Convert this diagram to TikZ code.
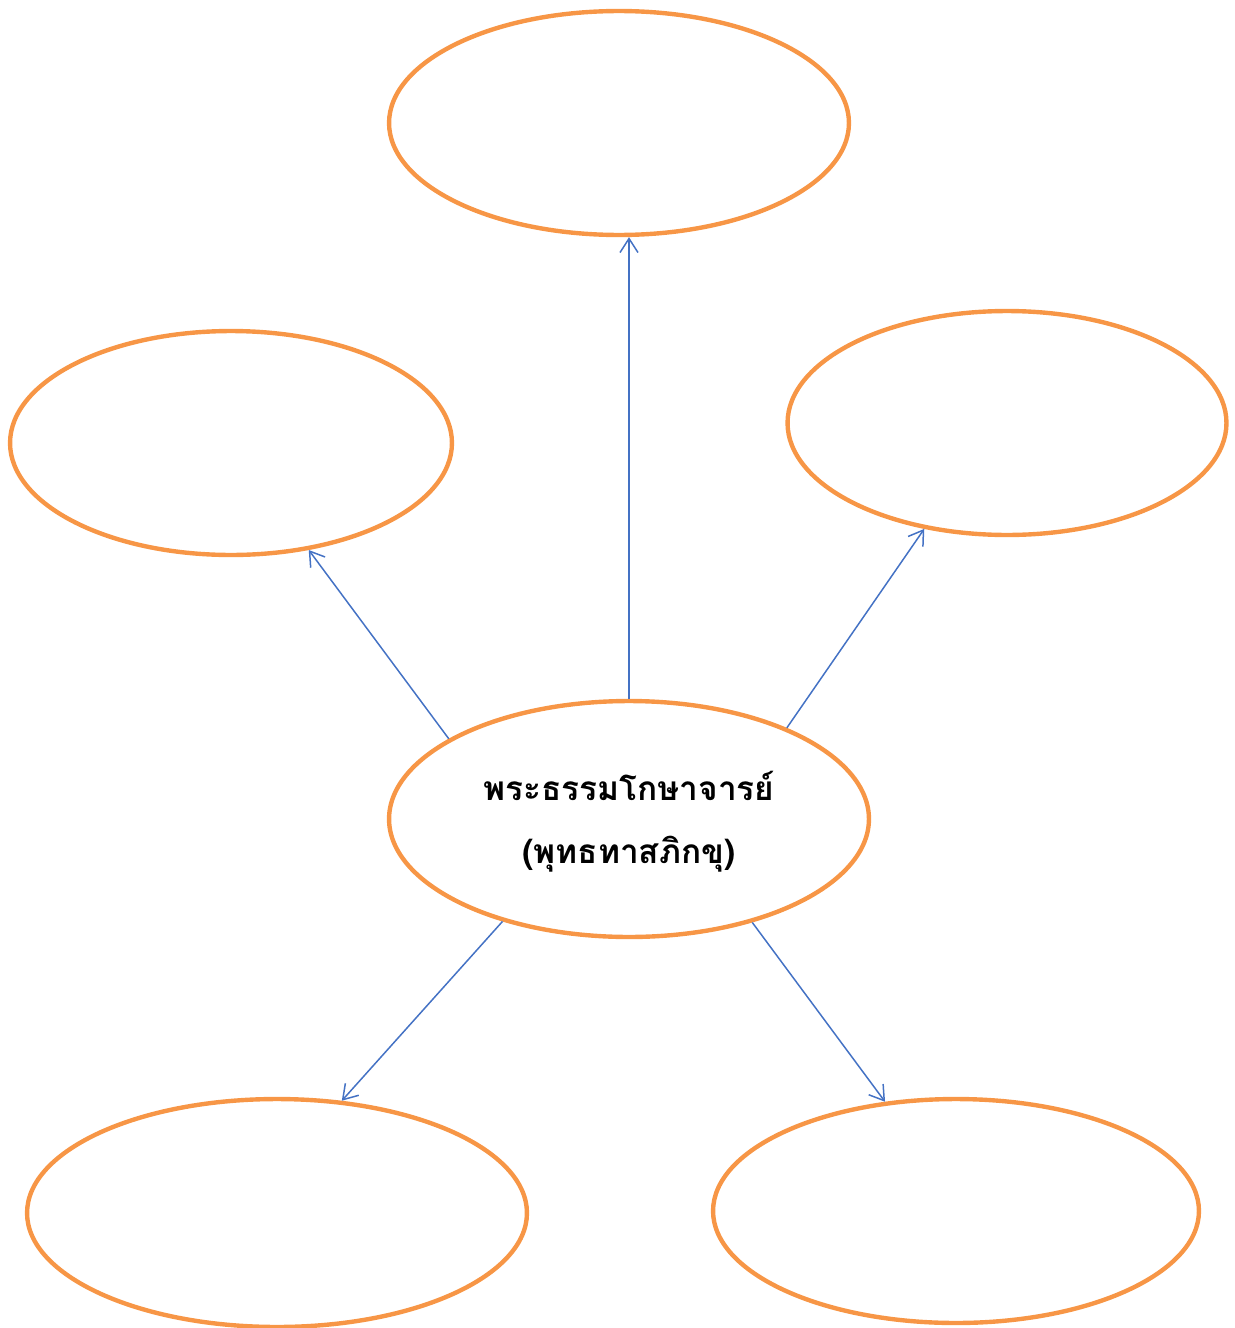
\documentclass[tikz,border=0pt]{standalone}
\usepackage{fontspec}
\newfontfamily\thaifont[Script=Thai]{Loma}
\usetikzlibrary{shapes.geometric,arrows.meta}
\definecolor{ringorange}{RGB}{247,150,70}
\definecolor{linkblue}{RGB}{68,114,196}

\begin{document}
\begin{tikzpicture}[x=0.02cm,y=-0.02cm,
  bubble/.style={ellipse,draw=ringorange,line width=2.5pt,inner sep=0pt},
  link/.style={draw=linkblue,line width=0.85pt,-{Straight Barb[length=2.8mm,width=3.6mm]}}]

\useasboundingbox (0,0) rectangle (1234,1328);

% Draw the centre and the five empty bubbles
\node[bubble,inner sep=-2cm,minimum width=9.6cm,minimum height=4.72cm] (centre) at (629,819)
  {\thaifont\bfseries\fontsize{19}{36}\selectfont
   \begin{tabular}{c}พระธรรมโกษาจารย์\\(พุทธทาสภิกขุ)\end{tabular}};
\node[bubble,minimum width=9.2cm,minimum height=4.48cm] (top) at (619,123) {};
\node[bubble,minimum width=8.84cm,minimum height=4.48cm] (left) at (231,443) {};
\node[bubble,minimum width=8.78cm,minimum height=4.48cm] (right) at (1007,423) {};
\node[bubble,minimum width=10cm,minimum height=4.56cm] (lowleft) at (277,1213) {};
\node[bubble,minimum width=9.72cm,minimum height=4.48cm] (lowright) at (956,1211) {};

% Draw the arrows out of the centre
\draw[link] (centre.north) -- (centre.north |- top.south);
\draw[link] (centre.156) -- (left.-54);
\draw[link] (centre.30) -- (right.-128);
\draw[link] (centre.-141) -- (lowleft.60);
\draw[link] (centre.-40) -- (lowright.123);

\end{tikzpicture}
\end{document}
